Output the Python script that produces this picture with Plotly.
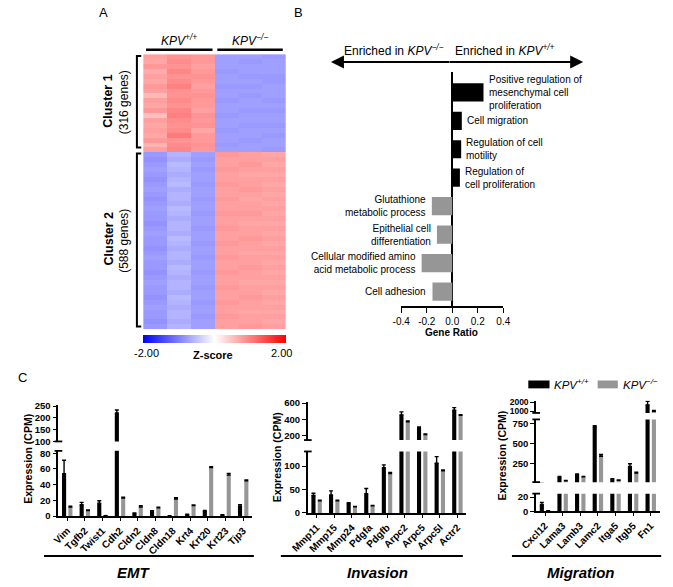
import plotly.graph_objects as go

W, H = 673, 587


def px(x):
    return x / W


def py(y):
    return 1 - y / H


FONT = "Liberation Sans, Arial, Helvetica, sans-serif"
BLACK = "#000000"
GRAY = "#969696"

# ---------------- Panel A: heatmap (z-scores) ----------------
heat_samples = ["WT-1", "WT-2", "WT-3", "KO-1", "KO-2", "KO-3"]
cluster1_z = [
    [0.75, 0.85, 0.80, -0.75, -0.75, -0.80],
    [0.70, 0.90, 0.80, -0.75, -0.80, -0.75],
    [0.80, 0.85, 0.75, -0.75, -0.75, -0.75],
    [0.65, 0.95, 0.80, -0.80, -0.75, -0.75],
    [0.75, 0.85, 0.85, -0.75, -0.80, -0.80],
    [0.70, 0.90, 0.80, -0.75, -0.75, -0.80],
    [0.80, 1.00, 0.75, -0.80, -0.80, -0.75],
    [0.75, 0.85, 0.80, -0.75, -0.75, -0.75],
    [0.55, 0.85, 0.85, -0.75, -0.80, -0.75],
    [0.75, 0.90, 0.80, -0.80, -0.75, -0.80],
    [0.70, 0.85, 0.80, -0.75, -0.75, -0.75],
    [0.80, 0.95, 0.75, -0.75, -0.80, -0.80],
    [0.50, 1.00, 0.85, -0.80, -0.75, -0.75],
    [0.75, 0.90, 0.80, -0.75, -0.75, -0.75],
    [0.70, 0.85, 0.85, -0.75, -0.80, -0.80],
    [0.75, 0.90, 0.70, -0.80, -0.75, -0.75],
    [0.70, 1.05, 0.80, -0.75, -0.75, -0.80],
    [0.80, 0.85, 0.80, -0.75, -0.80, -0.75],
    [0.60, 0.90, 0.85, -0.80, -0.75, -0.75],
    [0.75, 0.95, 0.80, -0.75, -0.75, -0.80],
]
cluster2_z = [
    [-0.80, -0.60, -0.75, 0.80, 0.75, 0.70],
    [-0.85, -0.65, -0.80, 0.75, 0.75, 0.75],
    [-0.80, -0.55, -0.75, 0.75, 0.80, 0.70],
    [-0.75, -0.60, -0.80, 0.80, 0.75, 0.75],
    [-0.80, -0.65, -0.75, 0.75, 0.70, 0.70],
    [-0.85, -0.60, -0.75, 0.75, 0.75, 0.75],
    [-0.80, -0.55, -0.80, 0.80, 0.75, 0.70],
    [-0.75, -0.65, -0.75, 0.75, 0.80, 0.75],
    [-0.80, -0.60, -0.75, 0.75, 0.75, 0.70],
    [-0.85, -0.60, -0.80, 0.80, 0.70, 0.75],
    [-0.80, -0.65, -0.75, 0.75, 0.75, 0.70],
    [-0.75, -0.55, -0.75, 0.75, 0.75, 0.75],
    [-0.80, -0.60, -0.80, 0.80, 0.80, 0.70],
    [-0.80, -0.65, -0.75, 0.75, 0.75, 0.75],
    [-0.85, -0.60, -0.75, 0.75, 0.70, 0.70],
    [-0.80, -0.60, -0.80, 0.80, 0.75, 0.75],
    [-0.75, -0.65, -0.75, 0.75, 0.75, 0.70],
    [-0.80, -0.55, -0.75, 0.75, 0.80, 0.75],
    [-0.80, -0.60, -0.80, 0.80, 0.75, 0.70],
    [-0.85, -0.65, -0.75, 0.75, 0.75, 0.75],
    [-0.80, -0.60, -0.75, 0.75, 0.70, 0.70],
    [-0.75, -0.60, -0.80, 0.80, 0.75, 0.75],
    [-0.80, -0.65, -0.75, 0.75, 0.75, 0.70],
    [-0.80, -0.55, -0.75, 0.75, 0.80, 0.75],
    [-0.85, -0.60, -0.80, 0.80, 0.75, 0.70],
    [-0.80, -0.65, -0.75, 0.75, 0.75, 0.75],
    [-0.75, -0.60, -0.75, 0.75, 0.70, 0.70],
    [-0.80, -0.60, -0.80, 0.80, 0.75, 0.75],
    [-0.80, -0.65, -0.75, 0.75, 0.75, 0.70],
    [-0.85, -0.55, -0.75, 0.75, 0.80, 0.75],
    [-0.80, -0.60, -0.80, 0.80, 0.75, 0.70],
    [-0.75, -0.65, -0.75, 0.75, 0.75, 0.75],
    [-0.80, -0.60, -0.75, 0.75, 0.70, 0.70],
    [-0.80, -0.60, -0.80, 0.80, 0.75, 0.75],
    [-0.85, -0.65, -0.75, 0.75, 0.75, 0.70],
    [-0.80, -0.60, -0.75, 0.75, 0.80, 0.75],
]
z_min, z_max = -2.0, 2.0

# ---------------- Panel B: GO enrichment ----------------
go_terms = [
    "Positive regulation of mesenchymal cell proliferation",
    "Cell migration",
    "Regulation of cell motility",
    "Regulation of cell proliferation",
    "Glutathione metabolic process",
    "Epithelial cell differentiation",
    "Cellular modified amino acid metabolic process",
    "Cell adhesion",
]
go_labels = [
    "Positive regulation of<br>mesenchymal cell<br>proliferation",
    "Cell migration",
    "Regulation of cell<br>motility",
    "Regulation of<br>cell proliferation",
    "Glutathione<br>metabolic process",
    "Epithelial cell<br>differentiation",
    "Cellular modified amino<br>acid metabolic process",
    "Cell adhesion",
]
gene_ratio = [0.245, 0.075, 0.07, 0.06, -0.16, -0.12, -0.24, -0.155]
ratio_ticks = [-0.4, -0.2, 0.0, 0.2, 0.4]
ratio_ticktext = ["-0.4", "-0.2", "0.0", "0.2", "0.4"]

# ---------------- Panel C: expression (CPM) ----------------
emt_genes = ["Vim", "Tgfb2", "Twist1", "Cdh2", "Cldn2", "Cldn8", "Cldn18",
             "Krt4", "Krt20", "Krt23", "Tjp3"]
emt_wt = [54, 14.5, 16.5, 221, 3.4, 5.5, 0.3, 2.0, 6.3, 1.3, 12.5]
emt_wt_err = [17, 3, 3, 12, 0.8, 1.5, 0.2, 0.5, 1.0, 0.4, 2.2]
emt_ko = [11.5, 7.0, 0.5, 23, 11.7, 10.5, 21.8, 13.4, 61.7, 52.4, 44.9]
emt_ko_err = [1.0, 0.8, 0.2, 1.0, 1.7, 1.0, 1.5, 0.8, 1.2, 2.0, 1.0]

inv_genes = ["Mmp11", "Mmp15", "Mmp24", "Pdgfa", "Pdgfb", "Arpc2", "Arpc5",
             "Arpc5l", "Actr2"]
inv_wt = [37, 38, 20, 41, 96.5, 456, 296, 106, 512]
inv_wt_err = [5, 9, 2, 11, 6, 36, 12, 14, 32]
inv_ko = [26, 26, 13, 15, 84, 372, 216, 89.5, 452]
inv_ko_err = [1, 1, 1, 1, 2, 8, 8, 2, 6]

mig_genes = ["Cxcl12", "Lama3", "Lamb3", "Lamc2", "Itga5", "Itgb5", "Fn1"]
mig_wt = [9.3, 79, 116, 709, 59, 217, 1700]
mig_wt_err = [3.2, 12, 8, 12, 5, 33, 400]
mig_ko = [0.5, 38, 87, 344, 46, 136, 1000]
mig_ko_err = [0.2, 4, 5, 20, 4, 8, 100]

# y-axis segments per panel: (axis number, pixel bottom, pixel top, range, ticks, tick font size)
emt_segments = [
    (3, 520.0, 453.6, [0, 83], [0, 20, 40, 60, 80], 9.5),
    (4, 444.0, 406.8, [100, 255], [100, 150, 200, 250], 9.5),
]
inv_segments = [
    (5, 516.7, 454.2, [0, 131], [0, 50, 100], 9.5),
    (6, 442.6, 404.3, [148, 608], [200, 400, 600], 9.5),
]
mig_segments = [
    (7, 515.0, 497.1, [0, 25], [0, 20], 9.5),
    (8, 485.4, 421.6, [22, 800], [250, 500, 750], 9.5),
    (9, 415.0, 402.7, [820, 2140], [1000, 2000], 8.5),
]

fig = go.Figure()

# ---------- Panel A ----------
fig.add_trace(go.Heatmap(
    z=cluster1_z + cluster2_z,
    x=heat_samples,
    y=list(range(len(cluster1_z) + len(cluster2_z))),
    xaxis="x", yaxis="y",
    zmin=z_min, zmax=z_max,
    colorscale=[[0, "#0000FF"], [0.5, "#FFFFFF"], [1, "#FF0000"]],
    showscale=True,
    hoverinfo="skip",
    colorbar=dict(
        orientation="h", x=px(204), xanchor="center", y=py(340), yanchor="middle",
        len=148 / W, lenmode="fraction", thickness=8, thicknessmode="pixels",
        outlinewidth=0, showticklabels=False, ticks="", xpad=0, ypad=0,
    ),
))

# ---------- Panel B ----------
fig.add_trace(go.Bar(
    x=gene_ratio, y=go_terms, orientation="h", xaxis="x2", yaxis="y2",
    marker=dict(color=[BLACK if v > 0 else GRAY for v in gene_ratio], line=dict(width=0)),
    width=0.64, showlegend=False, hoverinfo="skip",
))


# ---------- Panel C ----------
def add_panel(xname, segments, cats, wt, wt_err, ko, ko_err):
    for seg in segments:
        yname = "y%d" % seg[0]
        for vals, errs, col in ((wt, wt_err, BLACK), (ko, ko_err, GRAY)):
            fig.add_trace(go.Bar(
                x=cats, y=vals, xaxis=xname, yaxis=yname,
                marker=dict(color=col, line=dict(width=0)),
                error_y=dict(type="data", array=errs, arrayminus=[0] * len(errs),
                             symmetric=False, color=BLACK, thickness=1.4, width=2),
                showlegend=False, hoverinfo="skip",
            ))


add_panel("x3", emt_segments, emt_genes, emt_wt, emt_wt_err, emt_ko, emt_ko_err)
add_panel("x4", inv_segments, inv_genes, inv_wt, inv_wt_err, inv_ko, inv_ko_err)
add_panel("x5", mig_segments, mig_genes, mig_wt, mig_wt_err, mig_ko, mig_ko_err)

layout = dict(
    width=W, height=H,
    margin=dict(l=0, r=0, t=0, b=0),
    paper_bgcolor="white", plot_bgcolor="white",
    font=dict(family=FONT, color=BLACK, size=10),
    barmode="group", bargap=0.28, bargroupgap=0.35,
    showlegend=False,
    xaxis=dict(domain=[px(130), px(278)], visible=False, fixedrange=True),
    yaxis=dict(domain=[py(330), py(50)], visible=False, autorange="reversed"),
    xaxis2=dict(domain=[px(398), px(504)], range=[-0.4, 0.4], anchor="y2",
                showline=True, linecolor=BLACK, linewidth=1.6,
                ticks="outside", ticklen=5, tickwidth=1.4, tickcolor=BLACK,
                tickvals=ratio_ticks, ticktext=ratio_ticktext,
                tickfont=dict(size=10), showgrid=False,
                zeroline=True, zerolinecolor=BLACK, zerolinewidth=1.6),
    yaxis2=dict(domain=[py(306), py(68)], anchor="x2", type="category",
                categoryarray=go_terms, autorange="reversed",
                showticklabels=False, showline=False, ticks="", showgrid=False),
)

for xname, segments, (xl, xr) in (("xaxis3", emt_segments, (42, 243)),
                                  ("xaxis4", inv_segments, (301, 465.5)),
                                  ("xaxis5", mig_segments, (538.2, 666.3))):
    layout[xname] = dict(
        domain=[px(xl), px(xr)], anchor="y%d" % segments[0][0], type="category",
        showline=True, linecolor=BLACK, linewidth=1.8,
        ticks="outside", ticklen=3, tickwidth=1.4, tickcolor=BLACK,
        tickangle=-45, tickfont=dict(size=10, family=FONT, weight="bold"), showgrid=False,
    )
    xn = xname.replace("axis", "")
    for num, ybot, ytop, rng, tv, fs in segments:
        layout["yaxis%d" % num] = dict(
            domain=[py(ybot), py(ytop)], anchor=xn, range=rng,
            showline=True, linecolor=BLACK, linewidth=1.8,
            ticks="outside", ticklen=4, tickwidth=1.4, tickcolor=BLACK,
            tickvals=tv, ticktext=[str(v) for v in tv],
            tickfont=dict(size=fs, weight="bold"), showgrid=False, zeroline=False,
        )

fig.update_layout(**layout)

shapes = []
annotations = []


def line(x0, y0, x1, y1, w=2.0):
    shapes.append(dict(type="line", xref="paper", yref="paper",
                       x0=px(x0), y0=py(y0), x1=px(x1), y1=py(y1),
                       line=dict(color=BLACK, width=w)))


def text(x, y, s, size=10, xanchor="center", yanchor="middle", angle=0, align="center", **kw):
    annotations.append(dict(xref="paper", yref="paper", x=px(x), y=py(y), text=s,
                            showarrow=False, xanchor=xanchor, yanchor=yanchor,
                            textangle=angle, align=align,
                            font=dict(size=size, family=FONT, color=BLACK), **kw))


# Panel letters
text(89, 8, "A", size=13)
text(291, 8, "B", size=13)
text(5, 379, "C", size=13)

# Panel A decorations
line(133, 45.5, 202, 45.5, 2.5)
line(207, 45.5, 275, 45.5, 2.5)
text(167, 36, "<i>KPV<sup>+/+</sup></i>", size=12)
text(241, 36, "<i>KPV<sup>\u2212/\u2212</sup></i>", size=12)
shapes.append(dict(type="path", xref="paper", yref="paper",
                   path="M %f,%f L %f,%f L %f,%f L %f,%f" % (px(128), py(52), px(123.5), py(52),
                                                              px(123.5), py(145), px(128), py(145)),
                   line=dict(color=BLACK, width=2)))
shapes.append(dict(type="path", xref="paper", yref="paper",
                   path="M %f,%f L %f,%f L %f,%f L %f,%f" % (px(128), py(151), px(123.5), py(151),
                                                              px(123.5), py(327), px(128), py(327)),
                   line=dict(color=BLACK, width=2)))
text(94, 98, "<b>Cluster 1</b>", size=12.5, angle=-90)
text(110, 99, "(316 genes)", size=12, angle=-90)
text(94, 238, "<b>Cluster 2</b>", size=12.5, angle=-90)
text(110, 240, "(588 genes)", size=12, angle=-90)
text(133, 354, "-2.00", size=11)
text(203, 356, "<b>Z-score</b>", size=11)
text(274, 354, "2.00", size=11)

# Panel B decorations
text(444, 46, "Enriched in <i>KPV<sup>\u2212/\u2212</sup></i>", size=12, xanchor="right")
text(452, 46, "Enriched in <i>KPV<sup>+/+</sup></i>", size=12, xanchor="left")
annotations.append(dict(xref="paper", yref="paper", x=px(325), y=py(58), ax=120, ay=0,
                        axref="pixel", ayref="pixel", text="", showarrow=True,
                        arrowhead=2, arrowsize=1.3, arrowwidth=2, arrowcolor=BLACK))
annotations.append(dict(xref="paper", yref="paper", x=px(587), y=py(58), ax=-135, ay=0,
                        axref="pixel", ayref="pixel", text="", showarrow=True,
                        arrowhead=2, arrowsize=1.3, arrowwidth=2, arrowcolor=BLACK))
for term, lab, v in zip(go_terms, go_labels, gene_ratio):
    annotations.append(dict(xref="x2", yref="y2", x=v, y=term, text=lab, showarrow=False,
                            xanchor="left" if v > 0 else "right",
                            xshift=3 if v > 0 else -4,
                            align="left" if v > 0 else "right",
                            font=dict(size=10, family=FONT, color=BLACK)))
text(450, 333, "<b>Gene Ratio</b>", size=10)

# Panel C decorations: broken-axis marks
for xa, ys in ((42, (444.0, 453.6)), (301, (442.6, 454.2)), (538.2, (415.0, 421.6, 485.4, 497.1))):
    for yy in ys:
        line(xa - 4, yy, xa + 4, yy, 1.8)

# legend
shapes.append(dict(type="rect", xref="paper", yref="paper", x0=px(530), x1=px(552),
                   y0=py(390), y1=py(382), fillcolor=BLACK, line=dict(width=0)))
shapes.append(dict(type="rect", xref="paper", yref="paper", x0=px(602), x1=px(623),
                   y0=py(390), y1=py(382), fillcolor=GRAY, line=dict(width=0)))
text(555, 386, "<i>KPV<sup>+/+</sup></i>", size=11.5, xanchor="left")
text(626, 386, "<i>KPV<sup>\u2212/\u2212</sup></i>", size=11.5, xanchor="left")

# y titles
text(11, 462, "<b>Expression (CPM)</b>", size=10.5, angle=-90)
text(269, 460, "<b>Expression (CPM)</b>", size=10.5, angle=-90)
text(503, 458, "<b>Expression (CPM)</b>", size=10.5, angle=-90)

# underlines and group titles
line(27, 560.5, 245, 560.5, 2)
line(273, 560.5, 462, 560.5, 2)
line(513, 560.5, 668, 560.5, 2)
text(120, 577, "<b><i>EMT</i></b>", size=15)
text(373, 577, "<b><i>Invasion</i></b>", size=15)
text(585, 577, "<b><i>Migration</i></b>", size=15)

fig.update_layout(shapes=shapes, annotations=annotations)
fig.write_html("out.html", config={"displayModeBar": False},
               post_script="document.body.style.margin='0';")
